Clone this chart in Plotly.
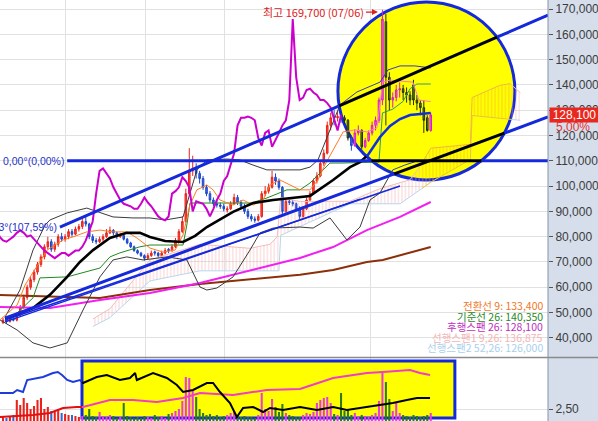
import math
import plotly.graph_objects as go

# ---------------- data (prices in thousand won, x = trading-day index) ----------------
days = list(range(125))
opens = [46, 47, 46.5, 47.5, 47, 49, 52, 56, 60, 63,
         66, 69, 72, 76, 78, 75, 77, 80, 79, 80,
         82, 81, 83, 84, 86, 85, 80, 78.5, 78, 79,
         80, 81.5, 82.5, 81.5, 80, 80.5, 79, 77.5, 76, 74.5,
         73.5, 72.5, 71.5, 72.5, 74, 73.5, 72.5, 73.5, 75, 74.5,
         76, 78.5, 82, 86, 97, 106, 107, 105, 103, 99.5,
         97, 94.5, 93, 92.5, 92, 90.5, 91, 93, 95.5, 93.5,
         92, 90, 88, 87, 86.5, 88, 97, 98, 99.5, 103.5,
         102, 99.5, 90, 94, 93.5, 93, 91, 88, 91, 94.5,
         97, 102, 104, 109, 113, 124, 127.5, 127, 127.5, 127,
         126, 119, 116, 121, 122, 115.5, 118, 121, 124, 126,
         134, 165, 143, 134, 135, 138, 138.5, 137, 136, 140,
         134, 132.8, 131, 127, 122]
highs = [48, 47.5, 48, 48, 50, 53, 57, 61, 64, 67,
         70, 73, 77, 80, 79, 78, 81, 81.5, 81, 83,
         83, 84, 85, 87, 88, 85.5, 81, 79.5, 80, 81,
         83, 84, 83, 82, 81.5, 81, 79.5, 78, 76.5, 75,
         74, 73, 73.5, 74.5, 74.5, 74, 74.5, 75.5, 75.5, 77,
         79.5, 83, 88, 99, 115, 112, 109, 106, 104, 100.5,
         98, 95.5, 94.5, 93.5, 93, 92, 94, 97, 96.5, 94.5,
         93, 91, 89, 88, 89, 98, 100, 101, 106, 105,
         103, 100, 95, 95.5, 94.5, 93.5, 92, 92, 95.5, 98,
         103, 105.5, 110, 114.5, 125.5, 129, 130, 129.5, 129, 128,
         126.5, 120, 122.5, 124, 122.5, 119, 122, 125.5, 127.5, 135,
         169.7, 168, 145, 137, 140, 141, 140, 139, 137.5, 142,
         136, 134, 134, 128, 129]
lows = [45.5, 45.5, 46, 46.5, 46.5, 48.5, 51.5, 55, 59, 62,
        65, 68, 71, 75, 74, 74, 76, 78, 78, 79,
        80, 80.5, 82, 83, 84, 79, 77.5, 77, 77.5, 78,
        79.5, 81, 80.5, 79, 79.5, 78.5, 77, 75.5, 74, 73,
        72, 70.5, 71, 72, 72.5, 71.5, 72, 73, 73.5, 74,
        75.5, 78, 81.5, 85.5, 96, 104, 103, 101, 98.5, 96,
        93.5, 92, 91.5, 91, 90, 89.5, 90.5, 92.5, 92.5, 91,
        89, 87, 86, 85.5, 86, 87.5, 96, 97, 99, 100.5,
        98.5, 89, 89.5, 92.5, 92, 90, 87, 87.5, 90.5, 94,
        96.5, 101, 103.5, 108, 112.5, 122, 124, 125.5, 125, 124.5,
        118, 114, 115.5, 120, 114.5, 115, 117.5, 120, 122, 125,
        132, 124, 130, 131, 133.5, 135, 134, 133, 132, 132,
        130, 128, 121, 121.5, 121.5]
closes = [47, 46.5, 47.5, 47, 49, 52, 56, 60, 63, 66,
          69, 72, 76, 78, 75, 77, 80, 79, 80, 82,
          81, 83, 84, 86, 85, 80, 78.5, 78, 79, 80,
          81.5, 82.5, 81.5, 80, 80.5, 79, 77.5, 76, 74.5, 73.5,
          72.5, 71.5, 72.5, 73.5, 73.5, 72.5, 73.5, 74.5, 74.5, 76,
          78.5, 82, 86, 97, 106, 107, 105, 103, 99.5, 97,
          94.5, 93, 92.5, 92, 91, 91, 93, 95.5, 93.5, 92,
          90, 88, 87, 86.5, 88, 97, 98, 99.5, 103.5, 102,
          99.5, 90, 94, 93.5, 93, 91, 88, 91, 94.5, 97,
          102, 104, 109, 113, 124, 127, 127, 127.5, 127, 126,
          119, 116, 121, 122, 115.5, 118, 121, 124, 126, 134,
          166, 143, 134, 135, 138, 138.5, 137, 136, 134, 134,
          132.8, 131, 126, 122, 128.1]
volume = [4, 3, 5, 6, 21, 16, 23, 18, 12, 15,
          21, 23, 12, 14, 10, 9, 12, 8, 7, 6,
          6, 5, 4, 5, 6, 12, 5, 4, 9, 5,
          4, 6, 5, 3, 4, 18, 5, 4, 3, 4,
          3, 5, 4, 3, 6, 4, 5, 3, 7, 8,
          10, 12, 20, 44, 43, 30, 24, 12, 8, 6,
          7, 5, 6, 4, 5, 6, 8, 10, 5, 4,
          5, 4, 4, 3, 6, 28, 12, 10, 22, 14,
          9, 17, 8, 6, 5, 4, 4, 6, 8, 7,
          9, 18, 21, 23, 24, 18, 7, 6, 28, 10,
          12, 6, 8, 5, 6, 5, 4, 6, 8, 20,
          50, 39, 22, 10, 18, 8, 6, 5, 4, 6,
          5, 4, 5, 6, 8]

ma_idx = [0.6, 8.7, 13.6, 18.6, 22.3, 26.1, 31, 35.9, 39.7, 42.6, 47, 52.2, 55.7, 59.1,
          66.7, 72.5, 78.3, 83.2, 89, 95.7, 100.6, 103.5, 105.8, 109.3, 112.2, 115.1, 118, 124]
ma_val = [47.5, 51.8, 57.0, 64.1, 70.0, 74.7, 79.5, 81.5, 81.5, 79.9, 78.3, 77.9, 80.3, 83.8,
          89.8, 93.3, 94.5, 95.3, 96.1, 102.4, 107.5, 109.5, 112.3, 119.4, 123.8, 126.5, 128.1, 128.9]

bb_up_idx = [0.6, 4.9, 8.7, 12.2, 13.6, 18.6, 24.3, 28.1, 31.9, 37.7, 42.6, 47, 52.2, 56.2, 59.1,
             64.9, 68.7, 72.5, 76.5, 82.3, 86.1, 89, 91.3, 94.8, 97.7, 102.6, 109.3, 111.6, 115.1, 119.4, 124]
bb_up_val = [48.2, 58.9, 74.7, 84.6, 86.6, 89.4, 91.3, 89.4, 87.8, 87.4, 87.4, 86.6, 87.8, 106.4, 110.3,
             110.7, 110.3, 108.3, 106.4, 106.4, 106.4, 107.5, 110.3, 122.2, 132.1, 137.2, 141.1, 145.9, 147.5, 147.5, 146.7]
bb_lo_idx = [-0.9, 4.1, 8.7, 13.6, 18.6, 23.2, 28.1, 31.9, 35.9, 40.6, 47.5, 53.3, 57.1, 59.1, 62,
             66.7, 71.6, 74.5, 78.3, 86.1, 89.9, 94.8, 99.7, 103.5, 106.4, 109.3, 113, 116.5, 120, 124]
bb_lo_val = [47.1, 43.1, 38.0, 36.0, 38.0, 51.0, 64.1, 70.8, 72.0, 70.8, 72.0, 70.8, 60.1, 58.9, 59.7,
             64.1, 74.7, 81.5, 83.4, 83.8, 83.4, 87.4, 78.7, 83.8, 94.5, 97.3, 106.4, 108.3, 109.9, 110.3]

conv_idx = [-0.9, 4.1, 6.4, 8.7, 10.7, 12.8, 15.1, 17.4, 20.3, 24.3, 28.1, 31.9, 35.9, 38.8, 42.6,
            46.4, 49.9, 52.2, 54.2, 56.2, 59.1, 60.9, 62.9, 66.7, 69.6, 72.5, 75.4, 77.4, 80.3, 83.2,
            86.1, 89, 91.3, 93.3, 95.7, 98.6, 102, 105.5, 108.4, 110.1, 112.2, 118.8, 120.6, 124]
conv_val = [47.1, 53.0, 60.9, 66.0, 70.0, 74.7, 76.7, 78.7, 79.9, 81.9, 82.6, 81.9, 81.9, 79.5, 75.5,
            73.9, 74.7, 80.7, 92.5, 98.5, 100.4, 98.5, 94.5, 92.5, 94.5, 92.5, 94.5, 100.4, 102.4, 100.4,
            98.5, 98.5, 102.4, 108.3, 114.3, 121.4, 122.2, 121.4, 123.0, 141.1, 141.9, 141.1, 134.0, 133.4]
base_idx = [2, 8.7, 10.7, 18.6, 28.1, 31, 33.9, 39.7, 42.6, 52.2, 53.3, 54.2, 63, 72, 76.5, 82.3,
            86.1, 89, 94.8, 98, 109, 110, 113, 116, 118, 120, 124]
base_val = [47.1, 55.8, 63.7, 64.1, 67.6, 72.0, 73.6, 76.0, 76.7, 76.7, 84.6, 93.3, 93.3, 93.3, 95.3, 98.5,
            98.5, 101.2, 109.1, 109.1, 109.5, 128.9, 130.4, 133.5, 138.5, 140.35, 140.35]

span1_idx = [26.1, 31, 42.6, 57.1, 71.6, 77.4, 79.5, 80.5, 86.1, 100.6, 109.3, 118, 121, 124, 128,
             135.5, 136, 144, 147, 150]
span1_val = [47.5, 51.5, 70.8, 77.0, 75.4, 77.0, 80.0, 95.5, 93.9, 94.0, 99.0, 102.5, 108.0, 115.0, 115.5,
             116.5, 135.0, 139.8, 140.5, 136.9]
span2_idx = [26.1, 31, 42.6, 57.1, 71.6, 80, 80.5, 100.6, 115.1, 124, 135.5, 136, 150]
span2_val = [44.5, 48.0, 62.5, 66.5, 66.5, 66.5, 80.5, 93.0, 93.0, 101.5, 110.5, 127.9, 126.0]

ma60_idx = [-0.9, 13.6, 28.1, 42.6, 57.1, 71.6, 86.1, 95.7, 105.5, 115.1, 124]
ma60_val = [52.2, 51.8, 55.0, 57.7, 61.7, 66.8, 71.6, 75.9, 82.6, 87.8, 93.7]
ma120_idx = [-0.9, 28.1, 42.6, 57.1, 86.1, 95.7, 105.5, 110.1, 124]
ma120_val = [56.9, 55.8, 58.9, 61.3, 64.9, 66.8, 70.0, 70.8, 75.9]

trend_upper = ([16.5, 158], [83.8, 167.6])
trend_flat = ([18.6, 158], [110.0, 110.0])
trend_lower = ([0.6, 158], [47.8, 127.3])
trend_lower2 = ([0.6, 115.1], [47.1, 100.0])
trend_lower3 = ([0.6, 103.5], [46.3, 94.8])

ind1_idx = [-0.9, 2.9, 4.1, 5.8, 7, 9.9, 11.6, 14.5, 15.9, 17.1, 18.6, 20.3, 22.3, 23.2, 27.2,
            30.1, 33.9, 36.8, 38.3, 38.8, 43.5, 47.5, 50.4, 52.2, 55.1, 59.1, 60.9, 62.9, 65.8, 67.8,
            69.6, 72.5, 75.4, 77.4, 81.2, 84.1, 86.1, 91, 95.7, 99.7, 105.5, 109.3, 113, 117.1, 120, 123.8]
ind1_val = [28, 28, 31, 29, 41, 43, 44, 48, 49, 46, 41, 39, 41, 38, 44,
            46, 41, 43, 48, 41, 48, 43, 36, 29, 31, 38, 38, 29, 18, 4,
            13, 14, 9, 13, 11, 13, 14, 11, 14, 11, 14, 16, 18, 21, 23, 23]
ind2_idx = [-0.9, 8.7, 13.6, 17.4, 21.4, 23.2, 31, 37.7, 44.6, 52.2, 57.1, 66.7, 76.5, 86.1,
            95.7, 105.5, 110.1, 118, 120.9, 123.8]
ind2_val = [4, 6, 8, 13, 14, 14, 21, 21, 19, 23, 28, 26, 31, 32, 43, 48, 49, 51, 48, 46]

price_ticks = [40, 50, 60, 70, 80, 90, 100, 110, 120, 130, 140, 150, 160, 170]
price_tick_text = ["40,000", "50,000", "60,000", "70,000", "80,000", "90,000", "100,000", "110,000",
                   "120,000", "130,000", "140,000", "150,000", "160,000", "170,000"]
grid_days = [18, 41.2, 64.3, 106.4]
last_price_text = "128,100"
change_text = "5,00%"
high_text = "최고 169,700 (07/06)"
high_day, high_price = 108.7, 168.8
flat_label = "0,00°(0,00%)"
upper_label = "23,03°(107,59%)"
legend_rows = ["전환선 9: 133,400", "기준선 26: 140,350", "후행스팬 26: 128,100",
               "선행스팬1 9,26: 136,875", "선행스팬2 52,26: 126,000"]
lagging_shift = 26

# ---------------- style constants ----------------
X_RANGE = [-0.87, 158]
Y_RANGE = [32.43, 173.56]
CIRCLE = dict(x0=97.1, x1=148.4, y0=102.4, y1=172.8)
RECT = dict(x0=22.9, x1=131, y0=3, y1=60)
CX, CY = (CIRCLE["x0"] + CIRCLE["x1"]) / 2, (CIRCLE["y0"] + CIRCLE["y1"]) / 2
RX, RY = (CIRCLE["x1"] - CIRCLE["x0"]) / 2, (CIRCLE["y1"] - CIRCLE["y0"]) / 2
CLOUD_SPLIT = (121.5, 147.5)
BLUE = "#1428dc"
NUM_FONT = "Liberation Sans Narrow, Liberation Sans, Arial"
LBL_FONT = "Liberation Sans, Arial"
KR_FONT = "Noto Sans CJK KR"


def in_circle(x, y):
    return ((x - CX) / RX) ** 2 + ((y - CY) / RY) ** 2 <= 1


def split_circle(xs, ys):
    outs, ins = ([], []), ([], [])

    def add(target, a, b):
        tx, ty = target
        if tx and tx[-1] is not None and abs(tx[-1] - a[0]) < 1e-9 and abs(ty[-1] - a[1]) < 1e-9:
            tx.append(b[0]); ty.append(b[1])
        else:
            if tx:
                tx.append(None); ty.append(None)
            tx.extend([a[0], b[0]]); ty.extend([a[1], b[1]])

    for k in range(len(xs) - 1):
        x1, y1, x2, y2 = xs[k], ys[k], xs[k + 1], ys[k + 1]
        u1, w1 = (x1 - CX) / RX, (y1 - CY) / RY
        du, dw = (x2 - x1) / RX, (y2 - y1) / RY
        a = du * du + dw * dw
        b = 2 * (u1 * du + w1 * dw)
        c = u1 * u1 + w1 * w1 - 1
        ts = [0.0, 1.0]
        disc = b * b - 4 * a * c
        if a > 0 and disc > 0:
            r = math.sqrt(disc)
            for t in ((-b - r) / (2 * a), (-b + r) / (2 * a)):
                if 0 < t < 1:
                    ts.append(t)
        ts.sort()
        for t0, t1 in zip(ts[:-1], ts[1:]):
            pa = (x1 + t0 * (x2 - x1), y1 + t0 * (y2 - y1))
            pb = (x1 + t1 * (x2 - x1), y1 + t1 * (y2 - y1))
            tm = (t0 + t1) / 2
            um, wm = u1 + tm * du, w1 + tm * dw
            add(ins if um * um + wm * wm <= 1 else outs, pa, pb)
    return outs, ins


def clip_x(xs, ys, lo, hi):
    rx, ry = [], []
    for k in range(len(xs) - 1):
        x1, y1, x2, y2 = xs[k], ys[k], xs[k + 1], ys[k + 1]
        a, b = max(x1, lo), min(x2, hi)
        if a > b or x2 == x1:
            continue
        for xx in (a, b):
            yy = y1 + (xx - x1) / (x2 - x1) * (y2 - y1)
            if not rx or abs(rx[-1] - xx) > 1e-9:
                rx.append(xx); ry.append(yy)
    return rx, ry


fig = go.Figure()


def add_line(xs, ys, c_out, c_in, width, axes=("x", "y")):
    (ox, oy), (ix, iy) = split_circle(xs, ys)
    if ox:
        fig.add_trace(go.Scatter(x=ox, y=oy, mode="lines", line=dict(color=c_out, width=width),
                                 xaxis=axes[0], yaxis=axes[1], hoverinfo="skip"))
    if ix:
        fig.add_trace(go.Scatter(x=ix, y=iy, mode="lines", line=dict(color=c_in, width=width),
                                 xaxis=axes[0], yaxis=axes[1], hoverinfo="skip"))


# ---------------- Ichimoku cloud (hatched) ----------------
cloud_parts = [(-10, CLOUD_SPLIT[0], "#f2a8a8", "#b8d6ee", "#f4bcbc"),
               (CLOUD_SPLIT[0], CLOUD_SPLIT[1], "#efae2c", "#e8c24a", "#f0b840"),
               (CLOUD_SPLIT[1], 200, "#f2a8a8", "#b8d6ee", "#f4bcbc")]
for lo, hi, hatch, c2, c1 in cloud_parts:
    s2x, s2y = clip_x(span2_idx, span2_val, lo, hi)
    s1x, s1y = clip_x(span1_idx, span1_val, lo, hi)
    fig.add_trace(go.Scatter(x=s2x, y=s2y, mode="lines", line=dict(color=c2, width=1), hoverinfo="skip"))
    fig.add_trace(go.Scatter(x=s1x, y=s1y, mode="lines", line=dict(color=c1, width=1), fill="tonexty",
                             fillcolor="rgba(0,0,0,0)",
                             fillpattern=dict(shape="|", fgcolor=hatch, bgcolor="rgba(0,0,0,0)",
                                              size=3.45, solidity=0.3),
                             hoverinfo="skip"))

# ---------------- long moving averages ----------------
add_line(ma120_idx, ma120_val, "#8c2f0a", "#8c2fd0", 2)
add_line(ma60_idx, ma60_val, "#f21ef2", "#f21e10", 2)

# ---------------- Bollinger & Ichimoku lines ----------------
add_line(bb_up_idx, bb_up_val, "#3a3a3a", "#3a3ac0", 1)
add_line(bb_lo_idx, bb_lo_val, "#3a3a3a", "#3a3ac0", 1)
add_line(base_idx, base_val, "#1f8a1f", "#2a9a7a", 1)
add_line(conv_idx, conv_val, "#ff7a22", "#ff78d0", 1)
add_line([d - lagging_shift for d in days], closes, "#cc00cc", "#cc1040", 2)
add_line(ma_idx, ma_val, "#000000", "#1030e0", 2.6)

# ---------------- candles ----------------
out_d = [d for d in days if not in_circle(d, (opens[d] + closes[d]) / 2)]
in_d = [d for d in days if in_circle(d, (opens[d] + closes[d]) / 2)]
for sel, inc, dec in ((out_d, ("#e8231b", "#ff4a3c"), ("#1c46c8", "#3a6ee6")),
                      (in_d, ("#d81fc8", "#f060e0"), ("#23300c", "#5e8a1c"))):
    fig.add_trace(go.Candlestick(
        x=sel, open=[opens[d] for d in sel], high=[highs[d] for d in sel],
        low=[lows[d] for d in sel], close=[closes[d] for d in sel],
        increasing=dict(line=dict(color=inc[0], width=1), fillcolor=inc[1]),
        decreasing=dict(line=dict(color=dec[0], width=1), fillcolor=dec[1]),
        whiskerwidth=0, hoverinfo="skip"))

# ---------------- trend lines ----------------
add_line(*trend_lower3, BLUE, "#000000", 1.3)
add_line(*trend_lower2, BLUE, "#000000", 1.6)
add_line(*trend_lower, BLUE, "#000000", 3)
add_line(*trend_upper, BLUE, "#000000", 3)
add_line(*trend_flat, BLUE, "#000000", 3)

# ---------------- lower panel ----------------
bar_colors = []
for d in days:
    up = closes[d] >= opens[d]
    inside_rect = RECT["x0"] <= d <= RECT["x1"]
    if inside_rect:
        bar_colors.append("#e83ce0" if up else "#2a7a22")
    else:
        bar_colors.append("#e8231b" if up else "#2f68d8")
fig.add_trace(go.Bar(x=days, y=volume, marker=dict(color=bar_colors, line=dict(width=0)), width=0.6,
                     xaxis="x2", yaxis="y2", hoverinfo="skip"))
for xs, ys, c_left, c_right in ((ind2_idx, ind2_val, "#e01010", "#f03cc8"),
                                (ind1_idx, ind1_val, "#1c3cdc", "#000000")):
    lx, ly = clip_x(xs, ys, -10, RECT["x0"])
    rx_, ry_ = clip_x(xs, ys, RECT["x0"], 200)
    fig.add_trace(go.Scatter(x=lx, y=ly, mode="lines", line=dict(color=c_left, width=2),
                             xaxis="x2", yaxis="y2", hoverinfo="skip"))
    fig.add_trace(go.Scatter(x=rx_, y=ry_, mode="lines", line=dict(color=c_right, width=2),
                             xaxis="x2", yaxis="y2", hoverinfo="skip"))

# ---------------- shapes ----------------
shapes = [
    dict(type="circle", xref="x", yref="y", **CIRCLE, fillcolor="#ffff00",
         line=dict(color=BLUE, width=3), layer="between"),
    dict(type="rect", xref="x2", yref="y2", **RECT, fillcolor="#ffff00",
         line=dict(color=BLUE, width=3), layer="between"),
    dict(type="line", xref="paper", yref="paper", x0=0, x1=1.1, y0=63.5 / 421, y1=63.5 / 421,
         line=dict(color="#8a8a8a", width=1.5)),
    dict(type="line", xref="paper", yref="paper", x0=1.0, x1=1.0, y0=0, y1=1,
         line=dict(color="#8494aa", width=1)),
]

# ---------------- annotations ----------------
ann = [
    dict(x=high_day, y=high_price, xref="x", yref="y", text=high_text, showarrow=True,
         ax=-64, ay=0, arrowhead=2, arrowsize=1, arrowwidth=1.2, arrowcolor="#e02020",
         font=dict(family=KR_FONT, size=11, color="#e02020")),
    dict(x=1.0, y=128.1, xref="paper", yref="y", text=last_price_text, showarrow=False,
         xanchor="left", yanchor="middle", xshift=1, bgcolor="#e8281e", borderpad=0, width=49,
         font=dict(family=NUM_FONT, size=12, color="white")),
    dict(x=1.0, y=123.3, xref="paper", yref="y", text=change_text, showarrow=False,
         xanchor="left", yanchor="middle", xshift=6,
         font=dict(family=NUM_FONT, size=12, color="#e83030")),
    dict(x=0.0, y=110.0, xref="paper", yref="y", text=flat_label, showarrow=False,
         xanchor="left", yanchor="middle", xshift=1,
         font=dict(family=LBL_FONT, size=10.5, color="#1c30c8")),
    dict(x=59 / 548, y=83.8, xref="paper", yref="y", text=upper_label, showarrow=False,
         xanchor="right", yanchor="middle",
         font=dict(family=LBL_FONT, size=10.5, color="#1c30c8")),
]
legend_colors = ["#f07828", "#238a23", "#c02cc0", "#f4b4b4", "#a8d0ee"]
legend_y = [305, 316, 326.5, 337, 347.5]
for txt, col, yp in zip(legend_rows, legend_colors, legend_y):
    ann.append(dict(x=545 / 548, y=1 - yp / 421, xref="paper", yref="paper", text=txt,
                    showarrow=False, xanchor="right", yanchor="middle",
                    font=dict(family=KR_FONT, size=10.5, color=col)))

grid_col = "#e1e1e1"
fig.update_layout(
    width=598, height=421, margin=dict(l=0, r=50, t=0, b=0),
    paper_bgcolor="#d5deea", plot_bgcolor="white", showlegend=False,
    font=dict(family=NUM_FONT, size=12, color="#3a3a3a"),
    shapes=shapes, annotations=ann, boxgap=0.35,
    xaxis=dict(domain=[0, 1], range=X_RANGE, anchor="y", tickvals=grid_days, showticklabels=False,
               ticks="", showgrid=True, gridcolor=grid_col, zeroline=False,
               rangeslider=dict(visible=False), fixedrange=True),
    xaxis2=dict(domain=[0, 1], range=X_RANGE, anchor="y2", tickvals=grid_days, showticklabels=False,
                ticks="", showgrid=True, gridcolor=grid_col, zeroline=False, fixedrange=True),
    yaxis=dict(domain=[1 - 357 / 421, 1], range=Y_RANGE, side="right", anchor="x",
               tickvals=price_ticks, ticktext=price_tick_text, ticks="outside", ticklen=4,
               tickcolor="#555555", tickfont=dict(family=NUM_FONT, size=12, color="#3c3c3c"),
               showgrid=True, gridcolor=grid_col, zeroline=False, fixedrange=True),
    yaxis2=dict(domain=[0, 63 / 421], range=[0, 63], side="right", anchor="x2",
                tickvals=[12], ticktext=["2,50"], ticks="outside", ticklen=4, tickcolor="#555555",
                tickfont=dict(family=NUM_FONT, size=12, color="#3c3c3c"),
                showgrid=True, gridcolor=grid_col, zeroline=False, fixedrange=True),
)

fig.write_html("out.html", config={"displayModeBar": False},
               post_script="document.body.style.margin='0';")
